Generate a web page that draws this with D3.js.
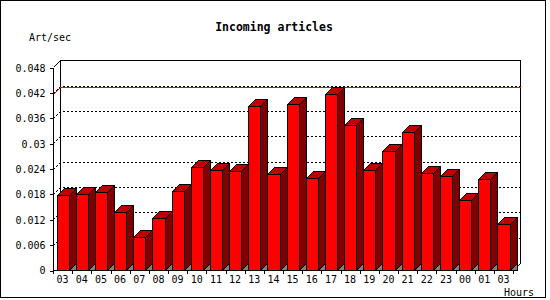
<!DOCTYPE html>
<html>
<head>
<meta charset="utf-8">
<script src="https://cdn.jsdelivr.net/npm/d3@7"></script>
<style>
  html, body { margin: 0; padding: 0; background: #fff; }
  svg { display: block; }
  text { font-family: "DejaVu Sans Mono", monospace; fill: #000; }
</style>
</head>
<body>
<svg id="chart" width="550" height="300"></svg>
<script>
const hours = ["03","04","05","06","07","08","09","10","11","12","13","14","15","16","17","18","19","20","21","22","23","00","01","03"];
const artPerSec = [0.01769,0.01793,0.0184,0.01366,0.00774,0.01224,0.01864,0.02432,0.02361,0.02337,0.03876,0.02266,0.03924,0.02171,0.04161,0.03427,0.02361,0.02811,0.03261,0.0229,0.02219,0.0165,0.02148,0.01082];
const yTickValues = [0,0.006,0.012,0.018,0.024,0.03,0.036,0.042,0.048];
const yTickLabels = ["0","0.006","0.012","0.018","0.024","0.03","0.036","0.042","0.048"];
const title = "Incoming articles";
const yTitle = "Art/sec";
const xTitle = "Hours";

const svg = d3.select("#chart").attr("shape-rendering", "crispEdges");
const DX = 7, DY = 7;
const x0 = 53, x1 = 513, yBase = 270, yTop = 67.3;

const x = d3.scaleBand().domain(d3.range(hours.length)).range([x0, x1]).paddingInner(0).paddingOuter(0);
const y = d3.scaleLinear().domain([0, 0.048]).range([yBase, yTop]);
const step = x.step();
const barOff = step * 0.19, barW = step * 0.63;

// outer border
svg.append("rect").attr("x", 0.5).attr("y", 0.5).attr("width", 545).attr("height", 297)
  .attr("fill", "none").attr("stroke", "#000");

// title texts
svg.append("text").attr("x", 274).attr("y", 31).attr("text-anchor", "middle")
  .style("font-size", "11.5px").style("font-weight", "bold").text(title);
svg.append("text").attr("x", 29).attr("y", 40.5).style("font-size", "10px").text(yTitle);
svg.append("text").attr("x", 534).attr("y", 296).attr("text-anchor", "end").style("font-size", "10px").text(xTitle);

const g = svg.append("g");
const yTopPx = Math.round(y(0.048));
// back wall frame
g.append("path")
  .attr("d", `M${x0 + DX + 0.5},${yBase - DY + 0.5}V${yTopPx - DY + 0.5}H${x1 + DX + 0.5}V${yBase - DY + 0.5}`)
  .attr("fill", "none").attr("stroke", "#000");
g.append("line").attr("x1", x0 + 0.5).attr("y1", yTopPx + 0.5).attr("x2", x0 + DX + 0.5).attr("y2", yTopPx - DY + 0.5)
  .attr("stroke", "#000");

// dashed gridlines
yTickValues.filter(v => v > 0 && v < 0.048).forEach(v => {
  const yy = Math.round(y(v)) + 0.5;
  g.append("path").attr("d", `M${x0 + 0.5},${yy}L${x0 + DX + 0.5},${yy - DY}H${x1 + DX + 0.5}`)
    .attr("fill", "none").attr("stroke", "#000").attr("stroke-dasharray", "2,2");
});

// max line (red)
const maxV = d3.max(artPerSec);
const ym = Math.round(y(maxV)) + 0.5;
g.append("path").attr("d", `M${x0 + 0.5},${ym}L${x0 + DX + 0.5},${ym - DY}H${x1 + DX + 0.5}`)
  .attr("fill", "none").attr("stroke", "#f00");

// floor right edge
g.append("line").attr("x1", x1 + 0.5).attr("y1", yBase + 0.5).attr("x2", x1 + DX + 0.5).attr("y2", yBase - DY + 0.5)
  .attr("stroke", "#000");

// bars
const bars = g.selectAll("g.bar").data(artPerSec).join("g").attr("class", "bar");
bars.each(function (v, i) {
  const b = d3.select(this);
  const xl = Math.round(x(i) + barOff) + 0.5;
  const xr = Math.round(x(i) + barOff + barW) + 0.5;
  const yt = Math.round(y(v)) + 0.5;
  const yb = yBase + 0.5;
  // floor shadow triangle
  b.append("path").attr("d", `M${xr},${yb}L${xr + DX},${yb - DY}V${yb}Z`)
    .attr("fill", "#808080").attr("stroke", "#000");
  // side
  b.append("path").attr("d", `M${xr},${yt}L${xr + DX},${yt - DY}V${yb - DY}L${xr},${yb}Z`)
    .attr("fill", "#800000").attr("stroke", "#000");
  // top
  b.append("path").attr("d", `M${xl},${yt}L${xl + DX},${yt - DY}H${xr + DX}L${xr},${yt}Z`)
    .attr("fill", "#c00000").attr("stroke", "#000");
  // front
  b.append("rect").attr("x", xl).attr("y", yt).attr("width", xr - xl).attr("height", yb - yt)
    .attr("fill", "#ff0000").attr("stroke", "#000");
});

// y axis
const yAxis = d3.axisLeft(y).tickValues(yTickValues)
  .tickFormat((d, i) => yTickLabels[i]).tickSize(4).tickSizeOuter(0).tickPadding(4);
const ya = svg.append("g").attr("transform", `translate(${x0 + 0.5},0.5)`).call(yAxis);
ya.select(".domain").attr("d", `M0,${yTopPx}V${yBase}`).attr("stroke", "#000");
ya.selectAll("text").style("font-size", "10px").style("font-family", "'DejaVu Sans Mono', monospace").attr("fill", "#000");
ya.selectAll("line").attr("stroke", "#000");

// x axis
const xa = svg.append("g");
xa.append("line").attr("x1", x0).attr("x2", x1 + 1).attr("y1", yBase + 0.5).attr("y2", yBase + 0.5).attr("stroke", "#000");
d3.range(hours.length + 1).forEach(i => {
  const xx = Math.round(x0 + i * step) + 0.5;
  xa.append("line").attr("x1", xx).attr("x2", xx).attr("y1", yBase).attr("y2", yBase + 4).attr("stroke", "#000");
});
xa.selectAll("text.xl").data(hours).join("text").attr("class", "xl")
  .attr("x", (d, i) => x(i) + step / 2).attr("y", 283).attr("text-anchor", "middle")
  .style("font-size", "10px").text(d => d);
</script>
</body>
</html>
